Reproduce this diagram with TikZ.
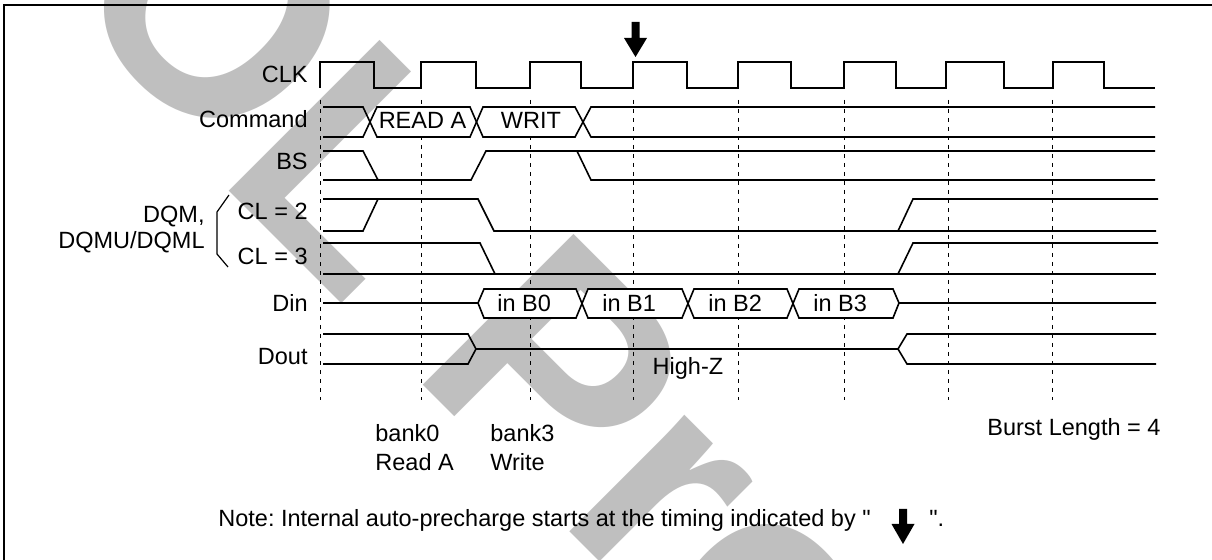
\documentclass[tikz,border=0pt]{standalone}
\usepackage{fontspec}
\setmainfont{Liberation Sans}[Ligatures=TeXOff]
\usepackage{tikz}

\begin{document}
\frenchspacing
\begin{tikzpicture}[x=0.5pt,y=-0.5pt,
        wave/.style={line width=0.8pt},
        guide/.style={line width=0.45pt,dash pattern=on 2pt off 2.5pt},
        lbl/.style={inner sep=0pt,font=\fontsize{11.75}{14}\selectfont},
        busbox/.style={fill=white},
        bigarrow/.style={fill=black},
        stamp/.style={inner sep=0pt,text=black!25,font=\bfseries\fontsize{155}{155}\selectfont}]
                    \useasboundingbox (0,0) rectangle (1212,560);
                    \foreach \ch/\px/\py [count=\i] in {O/142/82,L/281/243,P/482/444,r/597.5/559.5,o/707/669}
                        \node[stamp,anchor=base,rotate=-45] (stamp\i) at (\px,\py) {\ch};
                    \draw[line width=0.8pt] (4,560) -- (4,5) -- (1212,5);

                    \foreach \x in {320,421,530,633,738,844,948,1052}
                        \draw[guide] (\x,100) -- (\x,400);

                    \fill[busbox] (370,122) -- (377,107) -- (470,107) -- (476.5,122) -- (470,137) -- (377,137) -- cycle;
                    \fill[busbox] (476.5,122) -- (483,107) -- (575,107) -- (583,122) -- (575,137) -- (483,137) -- cycle;
                    \foreach \a/\b in {478/484,582/588,688/694,793/799}
                        \fill[busbox] (\a,303) -- (\b,289) -- (\b+92,289) -- (\b+98,303) -- (\b+92,318) -- (\b,318) -- cycle;

                    \draw[wave] (320,88) -- (320,62) -- (374,62) -- (374,88) -- (421,88) -- (421,62) -- (476,62) -- (476,88)
                        -- (530,88) -- (530,62) -- (581,62) -- (581,88) -- (633,88) -- (633,62) -- (687,62) -- (687,88)
                        -- (738,88) -- (738,62) -- (791,62) -- (791,88) -- (844,88) -- (844,62) -- (896,62) -- (896,88)
                        -- (946,88) -- (946,62) -- (1004,62) -- (1004,88) -- (1053,88) -- (1053,62) -- (1104,62) -- (1104,88) -- (1155,88);

                    \draw[wave] (323,107) -- (363,107) -- (377,137) -- (470,137) -- (483,107) -- (575,107) -- (591,137) -- (1155,137);
                    \draw[wave] (323,137) -- (363,137) -- (377,107) -- (470,107) -- (483,137) -- (575,137) -- (591,107) -- (1155,107);

                    \draw[wave] (323,151) -- (363,151) -- (378,180);
                    \draw[wave] (323,180) -- (471,180) -- (486,151) -- (1155,151);
                    \draw[wave] (577,151) -- (591,180) -- (1155,180);

                    \draw[wave] (323,199) -- (478,199) -- (494,231) -- (1156,231);
                    \draw[wave] (323,231) -- (363,231) -- (378,199);
                    \draw[wave] (898,231) -- (913,199) -- (1158,199);

                    \draw[wave] (323,243) -- (480,243) -- (495,274);
                    \draw[wave] (323,274) -- (1156,274);
                    \draw[wave] (898,274) -- (913,243) -- (1158,243);

                    \draw[wave] (323,303) -- (478,303) -- (484,289) -- (576,289) -- (588,318) -- (682,318) -- (694,289)
                        -- (787,289) -- (799,318) -- (893,318) -- (899,303) -- (1156,303);
                    \draw[wave] (478,303) -- (484,318) -- (576,318) -- (588,289) -- (682,289) -- (694,318)
                        -- (787,318) -- (799,289) -- (893,289) -- (899,303);

                    \draw[wave] (323,334) -- (468,334) -- (476,349) -- (898,349) -- (907,334) -- (1156,334);
                    \draw[wave] (323,364) -- (468,364) -- (476,349);
                    \draw[wave] (898,349) -- (907,364) -- (1156,364);

                    \draw[line width=0.6pt] (229,195) -- (217,212) -- (217,254) -- (228,267);

                    \node[lbl,anchor=base east] (clk) at (308,83) {CLK};
                    \node[lbl,anchor=base east] (cmd) at (308,128) {Command};
                    \node[lbl,anchor=base east] (bs) at (308,170) {BS};
                    \node[lbl,anchor=base east] (cltwo) at (308,220) {CL = 2};
                    \node[lbl,anchor=base east] (clthree) at (308,265) {CL = 3};
                    \node[lbl,anchor=base east] (dqm) at (205,223) {DQM,};
                    \node[lbl,anchor=base east] (dqmul) at (205,249) {DQMU/DQML};
                    \node[lbl,anchor=base east] (din) at (308,312) {Din};
                    \node[lbl,anchor=base east] (dout) at (308,365) {Dout};

                    \node[lbl,anchor=base] (reada) at (422.5,129) {READ A};
                    \node[lbl,anchor=base] (writ) at (531,129) {WRIT};
                    \node[lbl,anchor=base west] (inbzero) at (497,312) {in B0};
                    \node[lbl,anchor=base west] (inbone) at (602,312) {in B1};
                    \node[lbl,anchor=base west] (inbtwo) at (708,312) {in B2};
                    \node[lbl,anchor=base west] (inbthree) at (813,312) {in B3};
                    \node[lbl,anchor=base] (highz) at (688,375) {High-Z};

                    \node[lbl,anchor=base west] (bankzero) at (375,442) {bank0};
                    \node[lbl,anchor=base west] (readcmd) at (375,471) {Read A};
                    \node[lbl,anchor=base west] (bankthree) at (490,442) {bank3};
                    \node[lbl,anchor=base west] (writecmd) at (490,471) {Write};
                    \node[lbl,anchor=base west] (burst) at (987,436) {Burst Length = 4};

                    \node[lbl,anchor=base west] (note) at (218,527) {Note: Internal auto-precharge starts at the timing indicated by "};
                    \node[lbl,anchor=base west] (noteend) at (929,527) {".};

                    \fill[bigarrow,shift={(635.5,22)}] (-4,0) -- (4,0) -- (4,16) -- (11.5,16) -- (0,35) -- (-11.5,16) -- (-4,16) -- cycle;
                    \fill[bigarrow,shift={(903,509)}] (-4,0) -- (4,0) -- (4,15) -- (11.5,15) -- (0,35) -- (-11.5,15) -- (-4,15) -- cycle;
\end{tikzpicture}
\end{document}
